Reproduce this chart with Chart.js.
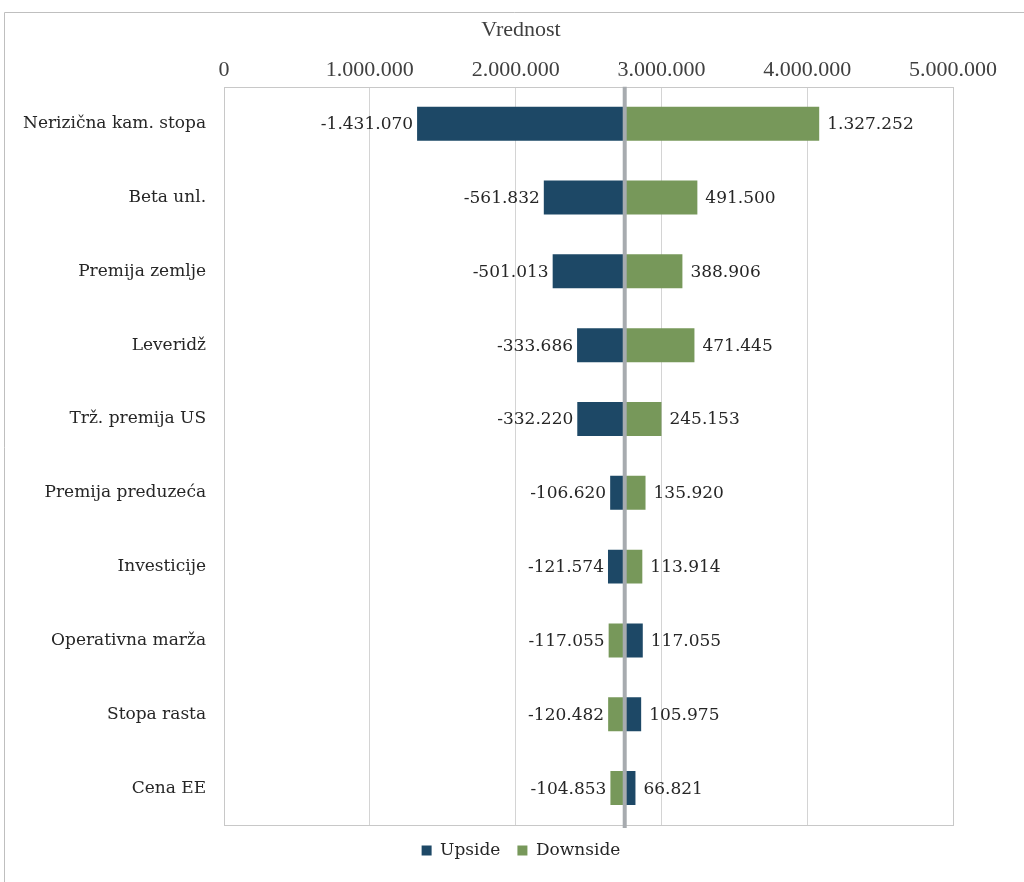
<!DOCTYPE html>
<html>
<head>
<meta charset="utf-8">
<script src="https://cdn.jsdelivr.net/npm/chart.js@4.4.1/dist/chart.umd.min.js"></script>
<style>
  html, body { margin: 0; padding: 0; background: #ffffff; }
  #wrap { position: relative; width: 1024px; height: 882px; }
</style>
</head>
<body>
<div id="wrap"><canvas id="c" width="1024" height="882"></canvas></div>
<script>
// Tornado chart: sensitivity of value to each input, around the base value
const categories = [
  'Nerizična kam. stopa', 'Beta unl.', 'Premija zemlje', 'Leveridž', 'Trž. premija US',
  'Premija preduzeća', 'Investicije', 'Operativna marža', 'Stopa rasta', 'Cena EE'
];
const upsideDelta   = [-1431070, -561832, -501013, -333686, -332220, -106620, -121574, 117055, 105975, 66821];
const downsideDelta = [1327252, 491500, 388906, 471445, 245153, 135920, 113914, -117055, -120482, -104853];
const baseValue = 2755000;
const axisTicks = [0, 1000000, 2000000, 3000000, 4000000, 5000000];

const BLUE = '#1d4866';
const GREEN = '#77985a';
const SERIF = '"DejaVu Serif", serif';
const NARROW = '"Liberation Serif", serif';

function fmt(v) {
  const s = Math.abs(Math.round(v)).toString().replace(/\B(?=(\d{3})+(?!\d))/g, '.');
  return (v < 0 ? '-' : '') + s;
}
function span(d) { return d < 0 ? [baseValue + d, baseValue] : [baseValue, baseValue + d]; }

// Centre the title and legend across the whole frame rather than the padded area
const recentre = {
  id: 'recentre',
  afterLayout(chart) {
    const shift = 42;
    [chart.legend, chart.titleBlock].forEach(b => {
      if (b) { b.left += shift; b.right += shift; }
    });
  }
};

// Frame, plot border, base line and value labels
const decor = {
  id: 'decor',
  beforeDraw(chart) {
    const ctx = chart.ctx;
    ctx.save();
    ctx.strokeStyle = '#bfbfbf';
    ctx.lineWidth = 1;
    ctx.beginPath();
    ctx.moveTo(4.5, 882); ctx.lineTo(4.5, 12.5); ctx.lineTo(1024, 12.5);
    ctx.stroke();
    ctx.restore();
  },
  afterDatasetsDraw(chart) {
    const ctx = chart.ctx;
    const a = chart.chartArea;
    const x = chart.scales.x;
    ctx.save();
    // plot border
    ctx.strokeStyle = '#c8c8c8';
    ctx.lineWidth = 1;
    ctx.strokeRect(Math.round(a.left) + 0.5, Math.round(a.top) + 0.5, Math.round(a.right - a.left), Math.round(a.bottom - a.top));
    // base line
    const bx = x.getPixelForValue(baseValue) - 1;
    ctx.strokeStyle = '#a7abaf';
    ctx.lineWidth = 4;
    ctx.beginPath();
    ctx.moveTo(bx, a.top);
    ctx.lineTo(bx, a.bottom + 3);
    ctx.stroke();
    // value labels
    ctx.font = '17px ' + SERIF;
    ctx.fillStyle = '#262626';
    ctx.textBaseline = 'middle';
    chart.data.datasets.forEach((ds, di) => {
      const meta = chart.getDatasetMeta(di);
      const deltas = di === 0 ? upsideDelta : downsideDelta;
      meta.data.forEach((bar, i) => {
        const d = deltas[i];
        if (d < 0) {
          ctx.textAlign = 'right';
          ctx.fillText(fmt(d), x.getPixelForValue(baseValue + d) - 4, bar.y + 1);
        } else {
          ctx.textAlign = 'left';
          ctx.fillText(fmt(d), x.getPixelForValue(baseValue + d) + 8, bar.y + 1);
        }
      });
    });
    ctx.restore();
  }
};

new Chart(document.getElementById('c'), {
  type: 'bar',
  data: {
    labels: categories,
    datasets: [
      { label: 'Upside', data: upsideDelta.map(span), backgroundColor: BLUE, borderWidth: 0 },
      { label: 'Downside', data: downsideDelta.map(span), backgroundColor: GREEN, borderWidth: 0 }
    ]
  },
  options: {
    indexAxis: 'y',
    responsive: false,
    animation: false,
    grouped: false,
    barPercentage: 0.46,
    categoryPercentage: 1,
    layout: { padding: { left: 5, right: 71, top: 10, bottom: 13 } },
    scales: {
      x: {
        position: 'top',
        min: 0, max: 5000000,
        afterBuildTicks(scale) { scale.ticks = axisTicks.map(v => ({ value: v })); },
        ticks: {
          color: '#404040', padding: 3,
          font: { family: NARROW, size: 22 },
          callback: v => fmt(v)
        },
        grid: { color: '#d4d4d4', drawTicks: false },
        border: { display: false }
      },
      y: {
        ticks: { color: '#262626', padding: 18, font: { family: SERIF, size: 17 } },
        grid: { display: false, drawTicks: false },
        border: { display: false }
      }
    },
    plugins: {
      title: {
        display: true, text: 'Vrednost', color: '#404040',
        font: { family: NARROW, size: 22, weight: 'normal' },
        padding: { top: 7, bottom: 11 }
      },
      legend: {
        position: 'bottom',
        labels: {
          usePointStyle: true, pointStyle: 'rect', boxWidth: 10, boxHeight: 10,
          color: '#262626', padding: 17,
          font: { family: SERIF, size: 17 }
        }
      },
      tooltip: { enabled: false }
    }
  },
  plugins: [recentre, decor]
});
</script>
</body>
</html>
